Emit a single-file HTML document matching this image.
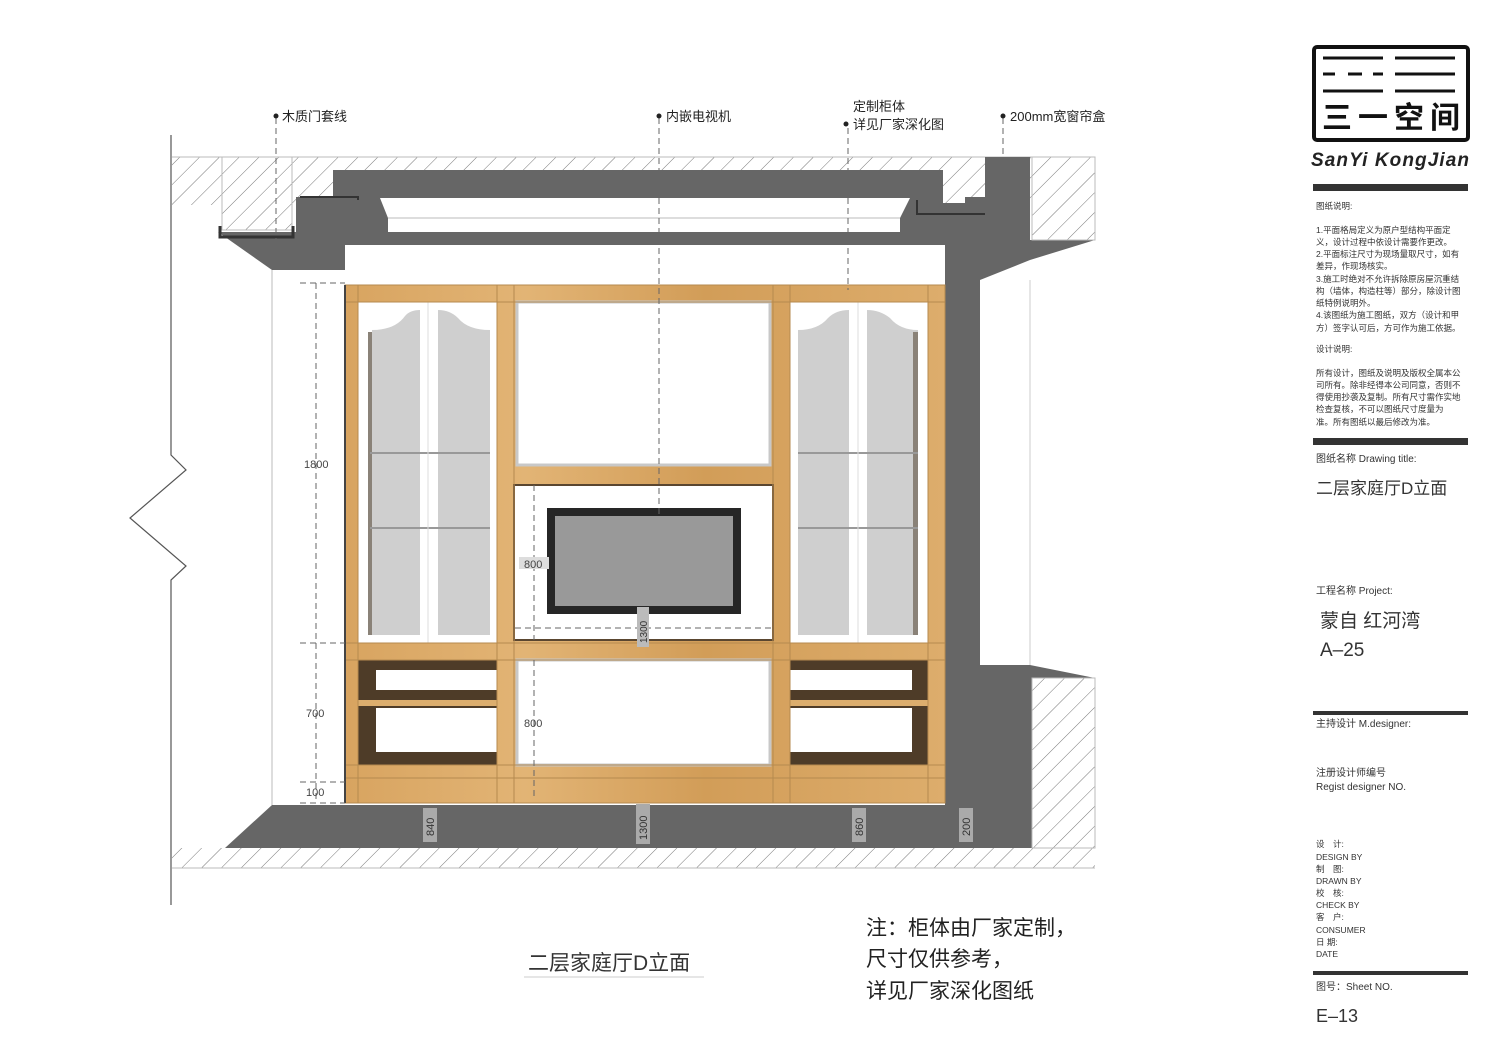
<!DOCTYPE html>
<html><head><meta charset="utf-8"><style>
html,body{margin:0;padding:0;background:#fff}
svg{display:block}
text{font-family:"Liberation Sans","Noto Sans CJK SC",sans-serif}
</style></head><body>
<svg width="1500" height="1061" viewBox="0 0 1500 1061" xmlns="http://www.w3.org/2000/svg">
<defs>
<pattern id="h" width="14" height="14" patternUnits="userSpaceOnUse" patternTransform="rotate(45)">
<rect width="14" height="14" fill="#fff"/><line x1="0" y1="0" x2="0" y2="14" stroke="#777" stroke-width="1"/>
</pattern>
<linearGradient id="wd" x1="0" x2="1" y1="0" y2="0">
<stop offset="0" stop-color="#d8a460"/><stop offset="0.3" stop-color="#e2b475"/><stop offset="0.6" stop-color="#d29d58"/><stop offset="1" stop-color="#ddad6c"/>
</linearGradient>
</defs>

<rect x="172" y="157" width="923" height="48" fill="url(#h)"/>
<line x1="172" y1="157" x2="1095" y2="157" stroke="#bbb"/>
<rect x="172" y="848" width="923" height="20" fill="url(#h)"/>
<line x1="172" y1="868" x2="1095" y2="868" stroke="#bbb"/>
<polyline points="171,135 171,455 186,470 130,518 186,566 171,580 171,905" fill="none" stroke="#555" stroke-width="1.2"/>

<polygon points="218,232 296,232 296,197 333,197 333,170 943,170 943,232 965,232 965,805 945,805 945,245 345,245 345,270 272,270" fill="#666"/>
<rect x="943" y="203" width="42" height="42" fill="#666"/>
<polygon points="380,198 910,198 900,218 900,232 388,232 388,218" fill="#fff"/>
<line x1="388" y1="218" x2="900" y2="218" stroke="#bbb"/>
<rect x="222" y="157" width="70" height="73" fill="url(#h)" stroke="#bbb"/>
<polyline points="220,226 220,237 293,237 293,226" fill="none" stroke="#333" stroke-width="3"/>
<polyline points="358,200 358,197 300,197" fill="none" stroke="#333" stroke-width="2"/>
<rect x="272" y="270" width="73" height="535" fill="#fff"/>
<line x1="272" y1="270" x2="272" y2="805" stroke="#bbb"/>

<polygon points="985,157 1030,157 1030,240 1095,240 1030,260 980,280 980,805 945,805 945,232 965,232 965,197 985,197" fill="#666"/>
<polyline points="917,200 917,214 985,214" fill="none" stroke="#333" stroke-width="2"/>
<rect x="1032" y="157" width="63" height="83" fill="url(#h)" stroke="#bbb"/>
<rect x="980" y="280" width="50" height="385" fill="#fff"/>
<line x1="1030" y1="280" x2="1030" y2="665" stroke="#ccc"/>
<polygon points="945,665 1030,665 1095,678 1032,678 1032,848 945,848" fill="#666"/>
<rect x="1032" y="678" width="63" height="170" fill="url(#h)" stroke="#bbb"/>
<rect x="945" y="665" width="35" height="140" fill="#666"/>
<polygon points="225,848 272,805 1030,805 1030,848" fill="#666"/>

<rect x="345" y="285" width="600" height="518" fill="url(#wd)"/>
<rect x="345" y="285" width="600" height="518" fill="none" stroke="#b58a4f" stroke-width="1"/>
<rect x="358" y="302" width="139" height="341" fill="#fff"/>
<rect x="368" y="332" width="8" height="303" fill="#8a8278"/>
<path d="M372,330 Q395,330 405,316 Q410,310 420,310 L420,635 L372,635 Z" fill="#cfcfcf"/>
<path d="M438,310 Q450,310 458,318 Q468,330 490,330 L490,635 L438,635 Z" fill="#cfcfcf"/>
<line x1="370" y1="453" x2="490" y2="453" stroke="#999" stroke-width="2"/>
<line x1="370" y1="528" x2="490" y2="528" stroke="#999" stroke-width="2"/>
<line x1="428" y1="302" x2="428" y2="643" stroke="#ddd"/>
<rect x="790" y="302" width="138" height="341" fill="#fff"/>
<path d="M798,330 Q818,330 828,318 Q836,310 849,310 L849,635 L798,635 Z" fill="#cfcfcf"/>
<path d="M867,310 Q880,310 890,318 Q900,330 918,330 L918,635 L867,635 Z" fill="#cfcfcf"/>
<rect x="913" y="332" width="5" height="303" fill="#8a8278"/>
<line x1="798" y1="453" x2="918" y2="453" stroke="#999" stroke-width="2"/>
<line x1="798" y1="528" x2="918" y2="528" stroke="#999" stroke-width="2"/>
<line x1="858" y1="302" x2="858" y2="643" stroke="#ddd"/>
<rect x="517" y="302" width="253" height="163" fill="#fff" stroke="#c8c8c8" stroke-width="3"/>
<rect x="514" y="485" width="259" height="155" fill="#fff" stroke="#5a4630" stroke-width="2"/>
<rect x="547" y="508" width="194" height="106" fill="#262626"/>
<rect x="555" y="516" width="178" height="90" fill="#999"/>
<rect x="517" y="660" width="253" height="105" fill="#fff" stroke="#c8c8c8" stroke-width="3"/>
<rect x="358" y="660" width="139" height="105" fill="#4e3c28"/>
<rect x="376" y="670" width="121" height="20" fill="#fff"/>
<rect x="358" y="700" width="139" height="6" fill="#dcae6e"/>
<rect x="376" y="708" width="121" height="44" fill="#fff"/>
<rect x="790" y="660" width="138" height="105" fill="#4e3c28"/>
<rect x="790" y="670" width="122" height="20" fill="#fff"/>
<rect x="790" y="700" width="138" height="6" fill="#dcae6e"/>
<rect x="790" y="708" width="122" height="44" fill="#fff"/>
<g fill="none" stroke="#b58a4f">
<rect x="345" y="285" width="13" height="518"/><rect x="497" y="285" width="17" height="518"/>
<rect x="773" y="285" width="17" height="518"/><rect x="928" y="285" width="17" height="518"/>
<line x1="345" y1="302" x2="945" y2="302"/><line x1="345" y1="765" x2="945" y2="765"/>
<line x1="345" y1="643" x2="945" y2="643"/><line x1="345" y1="660" x2="945" y2="660"/>
<line x1="345" y1="778" x2="945" y2="778"/>
</g>
<line x1="345" y1="285" x2="345" y2="803" stroke="#444" stroke-width="2"/>

<g stroke="#666" stroke-dasharray="6,4" fill="none">
<line x1="316" y1="283" x2="316" y2="803"/>
<line x1="300" y1="283" x2="345" y2="283"/>
<line x1="300" y1="643" x2="345" y2="643"/>
<line x1="300" y1="782" x2="345" y2="782"/>
<line x1="300" y1="803" x2="345" y2="803"/>
<line x1="345" y1="822" x2="990" y2="822"/>
<line x1="534" y1="485" x2="534" y2="640"/>
<line x1="534" y1="660" x2="534" y2="800"/>
<line x1="515" y1="628" x2="773" y2="628"/>
<line x1="276" y1="118" x2="276" y2="246"/>
<line x1="659" y1="118" x2="659" y2="518"/>
<line x1="848" y1="128" x2="848" y2="290"/>
<line x1="1003" y1="118" x2="1003" y2="183"/>
</g>
<g fill="#444" font-size="11">
<text x="304" y="468">1800</text><text x="306" y="717">700</text><text x="306" y="796">100</text>
<rect x="519" y="557" width="30" height="12" fill="#ddd"/><text x="524" y="568">800</text>
<text x="524" y="727">800</text>
</g>
<g font-size="11" fill="#333">
<rect x="423" y="808" width="14" height="34" fill="#aaa"/><text transform="translate(434,836) rotate(-90)">840</text>
<rect x="636" y="804" width="14" height="40" fill="#aaa"/><text transform="translate(647,840) rotate(-90)">1300</text>
<rect x="852" y="808" width="14" height="34" fill="#aaa"/><text transform="translate(863,836) rotate(-90)">860</text>
<rect x="959" y="808" width="14" height="34" fill="#aaa"/><text transform="translate(970,836) rotate(-90)">200</text>
<rect x="637" y="607" width="12" height="40" fill="#bbb"/><text transform="translate(647,643) rotate(-90)" font-size="10">1300</text>
</g>

<g fill="#222"><circle cx="276" cy="116" r="2.5"/><circle cx="659" cy="116" r="2.5"/><circle cx="846" cy="124" r="2.5"/><circle cx="1003" cy="116" r="2.5"/></g>
<g font-size="13" fill="#222">
<text x="282" y="121">木质门套线</text>
<text x="666" y="121">内嵌电视机</text>
<text x="853" y="111">定制柜体</text>
<text x="853" y="129">详见厂家深化图</text>
<text x="1010" y="121">200mm宽窗帘盒</text>
</g>

<text x="528" y="970" font-size="21" fill="#333">二层家庭厅D立面</text>
<line x1="524" y1="977" x2="704" y2="977" stroke="#ccc"/>
<g font-size="21" fill="#222">
<text x="866" y="935">注：柜体由厂家定制，</text>
<text x="866" y="966">尺寸仅供参考，</text>
<text x="866" y="998">详见厂家深化图纸</text>
</g>

<rect x="1314" y="47" width="154" height="93" fill="none" stroke="#111" stroke-width="4" rx="3"/>
<g stroke="#111" stroke-width="3">
<line x1="1323" y1="58" x2="1383" y2="58"/><line x1="1395" y1="58" x2="1455" y2="58"/>
<line x1="1323" y1="74" x2="1335" y2="74"/><line x1="1348" y1="74" x2="1362" y2="74"/><line x1="1373" y1="74" x2="1383" y2="74"/>
<line x1="1395" y1="74" x2="1455" y2="74"/>
<line x1="1323" y1="91" x2="1383" y2="91"/><line x1="1395" y1="91" x2="1455" y2="91"/>
</g>
<text x="1322" y="128" font-size="30" font-weight="bold" fill="#111" textLength="138">三一空间</text>
<text x="1311" y="166" font-size="19" font-style="italic" font-weight="bold" font-family="Liberation Serif,serif" fill="#222" textLength="158">SanYi KongJian</text>
<rect x="1313" y="184" width="155" height="7" fill="#333"/>
<g font-size="8.5" fill="#333">
<text x="1316" y="209">图纸说明:</text>
<text x="1316" y="233">1.平面格局定义为原户型结构平面定</text>
<text x="1316" y="245">义，设计过程中依设计需要作更改。</text>
<text x="1316" y="257">2.平面标注尺寸为现场量取尺寸，如有</text>
<text x="1316" y="269">差异，作现场核实。</text>
<text x="1316" y="282">3.施工时绝对不允许拆除原房屋沉重结</text>
<text x="1316" y="294">构（墙体，构造柱等）部分，除设计图</text>
<text x="1316" y="306">纸特例说明外。</text>
<text x="1316" y="318">4.该图纸为施工图纸，双方（设计和甲</text>
<text x="1316" y="331">方）签字认可后，方可作为施工依据。</text>
<text x="1316" y="352">设计说明:</text>
<text x="1316" y="376">所有设计，图纸及说明及版权全属本公</text>
<text x="1316" y="388">司所有。除非经得本公司同意，否则不</text>
<text x="1316" y="400">得使用抄袭及复制。所有尺寸需作实地</text>
<text x="1316" y="412">检查复核，不可以图纸尺寸度量为</text>
<text x="1316" y="425">准。所有图纸以最后修改为准。</text>
</g>
<rect x="1313" y="438" width="155" height="7" fill="#333"/>
<text x="1316" y="462" font-size="10" fill="#333">图纸名称  Drawing title:</text>
<text x="1316" y="494" font-size="17" fill="#333">二层家庭厅D立面</text>
<text x="1316" y="594" font-size="10" fill="#333">工程名称  Project:</text>
<text x="1320" y="627" font-size="19" fill="#333">蒙自 红河湾</text>
<text x="1320" y="656" font-size="19" fill="#333">A–25</text>
<rect x="1313" y="711" width="155" height="4" fill="#333"/>
<text x="1316" y="727" font-size="10" fill="#333">主持设计  M.designer:</text>
<text x="1316" y="776" font-size="10" fill="#333">注册设计师编号</text>
<text x="1316" y="790" font-size="10" fill="#333">Regist designer NO.</text>
<g font-size="8.5" fill="#333">
<text x="1316" y="847">设　计:</text><text x="1316" y="860">DESIGN BY</text>
<text x="1316" y="872">制　图:</text><text x="1316" y="884">DRAWN BY</text>
<text x="1316" y="896">校　核:</text><text x="1316" y="908">CHECK BY</text>
<text x="1316" y="920">客　户:</text><text x="1316" y="933">CONSUMER</text>
<text x="1316" y="945">日 期:</text><text x="1316" y="957">DATE</text>
</g>
<rect x="1313" y="971" width="155" height="4" fill="#333"/>
<text x="1316" y="990" font-size="10" fill="#333">图号：Sheet NO.</text>
<text x="1316" y="1022" font-size="18" fill="#333">E–13</text>
</svg>
</body></html>
